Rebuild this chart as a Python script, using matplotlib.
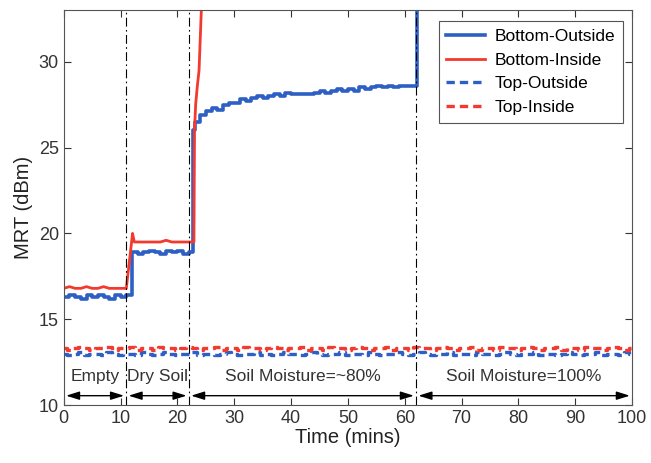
import matplotlib.pyplot as plt
import numpy as np

plt.rcParams['font.family'] = ['Liberation Sans', 'DejaVu Sans']

# Bottom sensors (step data, 1 min resolution)
bo_time = [0, 1, 2, 3, 4, 5, 6, 7, 8, 9, 10, 11, 12, 13, 14, 15, 16, 17, 18, 19, 20, 21, 22,
           22.7, 23, 24, 25, 26, 27, 28, 29, 30, 31, 32, 33, 34, 35, 36, 37, 38, 39, 40, 41, 42,
           43, 44, 45, 46, 47, 48, 49, 50, 51, 52, 53, 54, 55, 56, 57, 58, 59, 60, 61, 62.2, 63]
bo_mrt = [16.3, 16.4, 16.3, 16.2, 16.4, 16.3, 16.4, 16.3, 16.2, 16.4, 16.3, 16.4, 18.9, 18.8,
          18.9, 19.0, 18.9, 18.8, 19.0, 18.9, 19.0, 18.8, 18.9,
          26.0, 26.5, 26.9, 27.1, 27.3, 27.2, 27.5, 27.6, 27.6, 27.8, 27.7, 27.9, 28.0, 27.9,
          28.0, 28.1, 28.0, 28.2, 28.1, 28.1, 28.1, 28.1, 28.2, 28.3, 28.2, 28.3, 28.4, 28.3,
          28.4, 28.3, 28.5, 28.4, 28.5, 28.6, 28.5, 28.6, 28.5, 28.6, 28.6, 28.6, 34.0, 34.0]

bi_time = [0, 1, 2, 3, 4, 5, 6, 7, 8, 9, 10, 11, 12.1, 12.4, 13, 15, 17, 18, 19, 21, 22.9,
           23.0, 23.2, 23.5, 23.8, 24.2, 24.5]
bi_mrt = [16.8, 16.9, 16.8, 16.8, 16.9, 16.8, 16.8, 16.9, 16.8, 16.8, 16.8, 16.8, 20.0, 19.5,
          19.5, 19.5, 19.5, 19.6, 19.5, 19.5, 19.5,
          26.0, 27.5, 28.6, 29.5, 33.0, 34.0]

# Top sensors (1 min resolution, 0..100)
top_time = list(range(0, 101))
to_mrt = [13.0, 12.9, 13.0, 13.1, 12.9, 13.0, 13.0, 12.9, 13.1, 13.0, 12.9, 13.0, 13.0, 12.9,
          13.1, 13.0, 12.9, 13.0, 13.1, 13.0, 12.9, 13.0, 13.0, 13.1, 12.9, 13.0, 13.0, 12.9,
          13.0, 13.1, 13.0, 12.9, 13.0, 13.0, 13.1, 12.9, 13.0, 12.9, 13.0, 13.1, 13.0, 13.0,
          12.9, 13.0, 13.1, 13.0, 12.9, 13.0, 13.0, 13.1, 12.9, 13.0, 13.0, 12.9, 13.1, 13.0,
          12.9, 13.0, 13.0, 13.1, 13.0, 12.9, 13.0, 13.1, 13.0, 12.9, 13.0, 13.0, 13.1, 12.9,
          13.0, 13.0, 12.9, 13.1, 13.0, 13.0, 12.9, 13.0, 13.1, 13.0, 12.9, 13.0, 13.0, 13.1,
          12.9, 13.0, 13.0, 12.9, 13.0, 13.1, 13.0, 12.9, 13.0, 13.0, 13.1, 12.9, 13.0, 13.0,
          12.9, 13.1, 13.0]
ti_mrt = [13.3, 13.2, 13.3, 13.4, 13.3, 13.2, 13.3, 13.3, 13.4, 13.2, 13.3, 13.3, 13.4, 13.2,
          13.3, 13.3, 13.2, 13.4, 13.3, 13.3, 13.2, 13.3, 13.4, 13.3, 13.2, 13.3, 13.3, 13.4,
          13.2, 13.3, 13.3, 13.2, 13.4, 13.3, 13.3, 13.2, 13.3, 13.4, 13.3, 13.2, 13.3, 13.3,
          13.4, 13.2, 13.3, 13.3, 13.2, 13.4, 13.3, 13.3, 13.2, 13.3, 13.4, 13.3, 13.2, 13.3,
          13.3, 13.4, 13.2, 13.3, 13.3, 13.2, 13.4, 13.3, 13.3, 13.2, 13.3, 13.4, 13.3, 13.2,
          13.3, 13.3, 13.4, 13.2, 13.3, 13.3, 13.2, 13.4, 13.3, 13.3, 13.2, 13.3, 13.4, 13.3,
          13.2, 13.3, 13.3, 13.4, 13.2, 13.3, 13.3, 13.2, 13.4, 13.3, 13.3, 13.2, 13.3, 13.4,
          13.3, 13.2, 13.3]

# stage boundaries and labels
stage_bounds = [0, 11, 22, 62, 100]
stage_labels = ['Empty', 'Dry Soil', 'Soil Moisture=~80%', 'Soil Moisture=100%']

blue = '#2e5fc4'
red = '#f23a2e'

fig = plt.figure(figsize=(6.51, 4.63), dpi=100)
ax = fig.add_axes([0.098, 0.125, 0.873, 0.853])

ax.plot(bo_time, bo_mrt, color=blue, lw=2.6, drawstyle='steps-post', label='Bottom-Outside')
ax.plot(bi_time, bi_mrt, color=red, lw=2.0, label='Bottom-Inside')
ax.plot(top_time, to_mrt, color=blue, lw=2.4, ls=(0, (2.5, 1.5)), drawstyle='steps-mid',
        label='Top-Outside')
ax.plot(top_time, ti_mrt, color=red, lw=2.4, ls=(0, (2.5, 1.5)), drawstyle='steps-mid',
        label='Top-Inside')

for b in stage_bounds[1:-1]:
    ax.axvline(b, color='black', lw=0.8, ls=(0, (8, 3, 1.5, 3)))

for i, lab in enumerate(stage_labels):
    x0, x1 = stage_bounds[i], stage_bounds[i + 1]
    ax.annotate('', xy=(x1 - 0.4, 10.55), xytext=(x0 + 0.4, 10.55),
                arrowprops=dict(arrowstyle='<|-|>,head_length=0.8,head_width=0.25',
                                color='black', lw=1.0, shrinkA=0, shrinkB=0))
    ax.text((x0 + x1) / 2, 11.65, lab, ha='center', va='center', fontsize=12.5,
            color='#333333')

ax.set_xlim(0, 100)
ax.set_ylim(10, 33)
ax.set_xticks(range(0, 101, 10))
ax.set_yticks([10, 15, 20, 25, 30])
ax.tick_params(direction='in', top=True, right=True, labelsize=13, length=5,
               colors='#333333')
ax.set_xlabel('Time (mins)', fontsize=14.5, color='#222222', labelpad=1)
ax.set_ylabel('MRT (dBm)', fontsize=14.5, color='#222222', labelpad=4)
for s in ax.spines.values():
    s.set_color('#555555')
    s.set_linewidth(0.8)

leg = ax.legend(loc='upper right', fontsize=12.5, handlelength=2.2, borderpad=0.45,
                labelspacing=0.5, handletextpad=0.6, fancybox=False, framealpha=1,
                edgecolor='#555555', bbox_to_anchor=(1.0, 0.995))
leg.get_frame().set_linewidth(0.8)

fig.savefig('out.png', dpi=100)
